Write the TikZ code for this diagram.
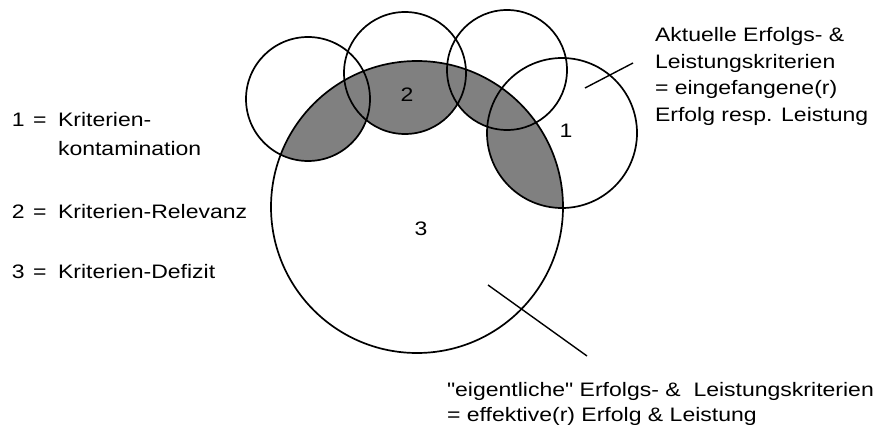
\documentclass[tikz,border=0pt]{standalone}
\usepackage{fontspec}
\setmainfont{Liberation Sans}[FakeStretch=1.18,Ligatures=TeXOff]
\begin{document}
\begin{tikzpicture}[x=1pt,y=-1pt,
  circ/.style={draw=black,line width=1.7pt},
  lbl/.style={inner sep=0pt,outer sep=0pt,font=\fontsize{19.5}{26}\selectfont},
  txt/.style={lbl,anchor=base west},
  pointer/.style={draw=black,line width=1.4pt}]
\useasboundingbox (0,0) rectangle (886,425);
% shaded overlaps
\begin{scope}
  \clip (417,207) circle[radius=146];
  \fill[black!50] (308,99) circle[radius=62];
  \fill[black!50] (405,73) circle[radius=61];
  \fill[black!50] (507,70) circle[radius=60];
  \fill[black!50] (562,133) circle[radius=75];
\end{scope}
% circles
\draw[circ] (417,207) circle[radius=146];
\draw[circ] (308,99) circle[radius=62];
\draw[circ] (405,73) circle[radius=61];
\draw[circ] (507,70) circle[radius=60];
\draw[circ] (562,133) circle[radius=75];
% circle labels
\node[lbl] (c1) at (566,131) {1};
\node[lbl] (c2) at (407,95) {2};
\node[lbl] (c3) at (421,229) {3};
% pointer lines
\coordinate (p1a) at (585,88);
\coordinate (p1b) at (633,63);
\coordinate (p3a) at (488,285);
\coordinate (p3b) at (587,356);
\draw[pointer] (p1a) -- (p1b);
\draw[pointer] (p3a) -- (p3b);
% right text
\node[txt] (r1) at (655,41.7) {Aktuelle Erfolgs- \&};
\node[txt] (r2) at (655,68.3) {Leistungskriterien};
\node[txt] (r3) at (655,95) {= eingefangene(r)};
\node[txt] (r4) at (655,121.7) {Erfolg resp. Leistung};
% bottom text
\node[txt] (b1) at (447,396) {"eigentliche" Erfolgs- \&\ \ Leistungskriterien};
\node[txt] (b2) at (447,421) {= effektive(r) Erfolg \& Leistung};
% left legend
\node[txt] (l1n) at (12,127) {1};
\node[txt] (l1e) at (33,127) {=};
\node[txt] (l1t) at (58,127) {Kriterien-};
\node[txt] (l1u) at (58,155) {kontamination};
\node[txt] (l2n) at (12,218) {2};
\node[txt] (l2e) at (33,218) {=};
\node[txt] (l2t) at (58,218) {Kriterien-Relevanz};
\node[txt] (l3n) at (12,278) {3};
\node[txt] (l3e) at (33,278) {=};
\node[txt] (l3t) at (58,278) {Kriterien-Defizit};
\end{tikzpicture}
\end{document}
